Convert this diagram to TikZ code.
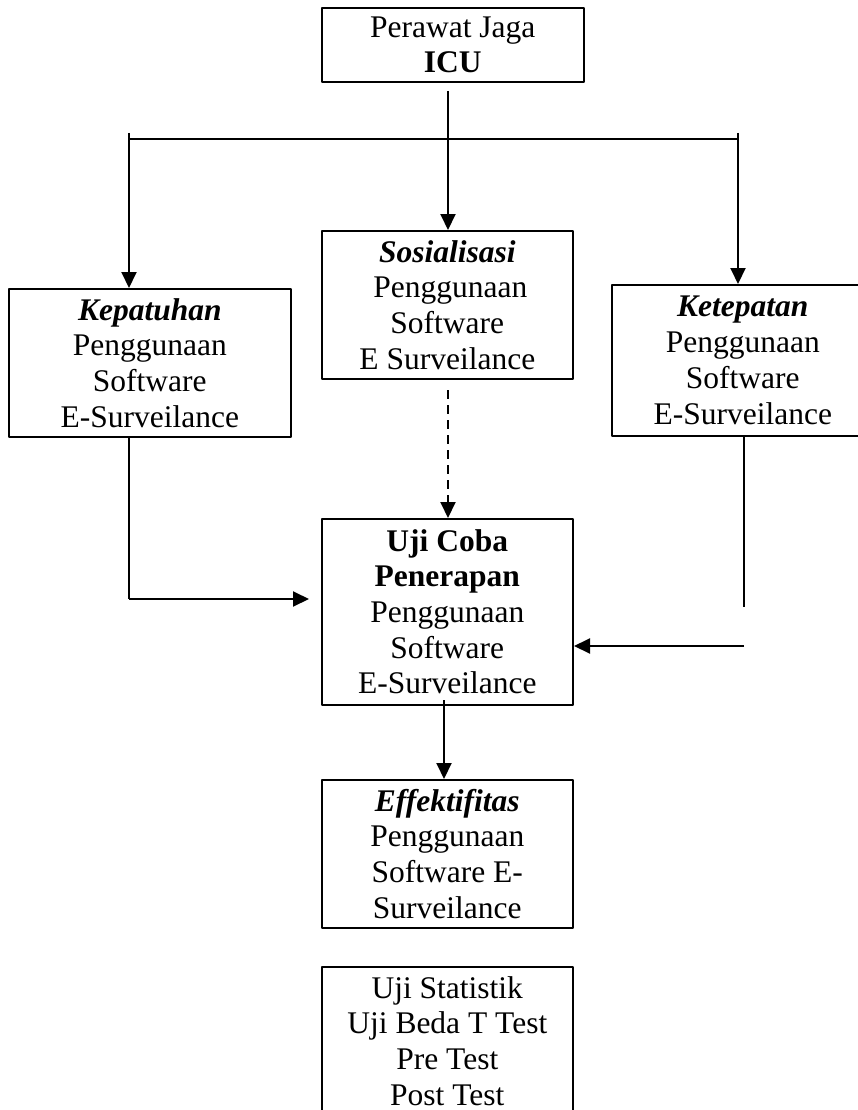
\documentclass[tikz,border=0pt]{standalone}
\usepackage{fontspec}
\setmainfont{Liberation Serif}
\usetikzlibrary{arrows.meta}

\tikzset{
  kotak/.style={draw, line width=1.6pt, align=center, inner sep=0pt, anchor=north west,
    font=\fontsize{31.5}{35.7}\selectfont},
  panah/.style={-{Triangle[length=16pt,width=15pt]}, line width=2pt},
  garis/.style={line width=1.2pt}
}

\begin{document}
\begin{tikzpicture}[x=1pt, y=-1pt, line join=round]
  \useasboundingbox (0,0) rectangle (857,1110);
  % kotak-kotak
  \node[kotak, minimum width=262pt, minimum height=74pt] (icu) at (321,7) {Perawat Jaga\\\textbf{ICU}};
  \node[kotak, minimum width=282pt, minimum height=148pt] (kep) at (8,288)
    {\textbf{\textit{Kepatuhan}}\\Penggunaan\\Software\\E-Surveilance};
  \node[kotak, minimum width=251pt, minimum height=148pt] (sos) at (321,230)
    {\textbf{\textit{Sosialisasi}}\\\hspace{6pt}Penggunaan\\Software\\E Surveilance};
  \node[kotak, minimum width=262pt, minimum height=151pt] (ket) at (611,284)
    {\textbf{\textit{Ketepatan}}\\Penggunaan\\Software\\E-Surveilance\hspace{8pt}};
  \node[kotak, minimum width=251pt, minimum height=186pt] (uji) at (321,518)
    {\textbf{Uji Coba}\\\textbf{Penerapan}\\Penggunaan\\Software\\E-Surveilance};
  \node[kotak, minimum width=251pt, minimum height=148pt] (eff) at (321,779)
    {\textbf{\textit{Effektifitas}}\\Penggunaan\\Software E-\\Surveilance};
  \node[kotak, minimum width=251pt, minimum height=148pt] (stat) at (321,966)
    {Uji Statistik\\Uji Beda T Test\\Pre Test\\Post Test};
  % titik bantu
  \path
  (448,91) coordinate (A)
  (129,133) coordinate (B)
  (738,133) coordinate (C)
  (129,139) coordinate (D)
  (738,139) coordinate (E)
  (448,390) coordinate (F)
  (129,599) coordinate (G)
  (309,599) coordinate (H)
  (744,607) coordinate (I)
  (744,646) coordinate (J)
  (574,646) coordinate (K)
  (444,700) coordinate (L)
  ;
  % garis dan panah
  \draw[line width=1.4pt] (D)--(E);
  \draw[panah] (A)--(A |- sos.north);
  \draw[panah] (B)--(B |- kep.north);
  \draw[panah] (C)--(C |- ket.north);
  \draw[panah, dash pattern=on 9pt off 6pt] (F)--(F |- uji.north);
  \draw[garis] (B |- kep.south)--(G);
  \draw[panah] (G)--(H);
  \draw[garis] (I |- ket.south)--(I);
  \draw[panah] (J)--(K);
  \draw[panah] (L)--(L |- eff.north);
\end{tikzpicture}
\end{document}
